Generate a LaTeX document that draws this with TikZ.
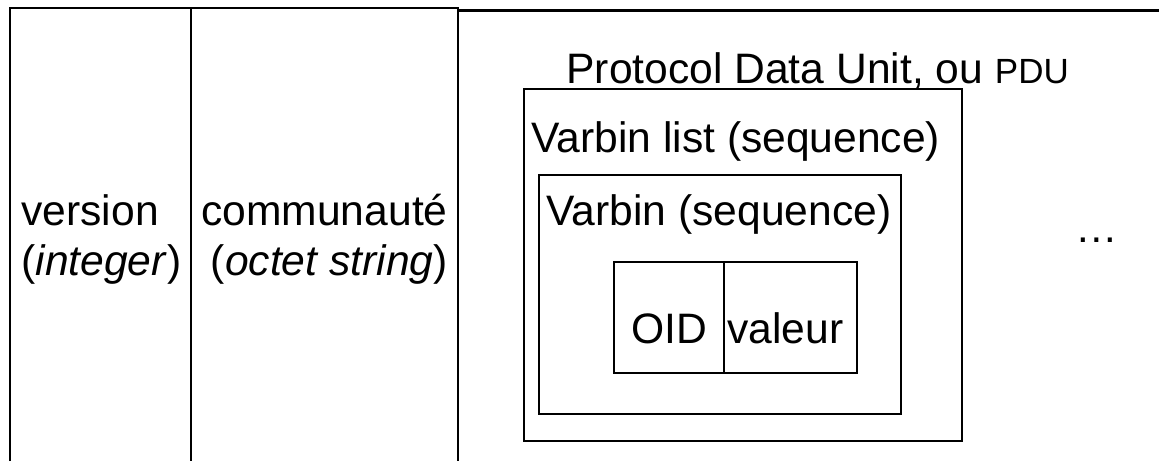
\documentclass[tikz,border=0pt]{standalone}
\usepackage{fontspec}
\setmainfont{Liberation Sans}
\usetikzlibrary{positioning}

\begin{document}
\begin{tikzpicture}[x=0.5pt,y=-0.5pt,
    every node/.style={inner sep=0pt, font=\fontsize{21.3}{25}\selectfont},
    cadre/.style={draw, line width=1.1pt},
    petit/.style={font=\fontsize{17.5}{20}\selectfont}]
  \useasboundingbox (0,0) rectangle (1159,461);
  % en-tete du message SNMP
  \draw[cadre] (10,461) -- (10,8) -- (458,8) -- (458,461);
  \draw[cadre] (191,8) -- (191,461);
  \draw[cadre] (458,10.5) -- (1159,10.5);
  \node[anchor=west, align=left] (version) at (21,239) {version\\(\textit{integer})};
  \node[anchor=east, align=right] (communaute) at (448,239) {communaut\'e\\(\textit{octet string})};
  % PDU et ses sequences
  \draw[cadre] (524,89) rectangle (962,441);
  \draw[cadre] (539,175) rectangle (901,414);
  \draw[cadre] (614,262) rectangle (857,373);
  \draw[cadre] (724,262) -- (724,373);
  \node[anchor=base west] (pdu) at (566,83) {Protocol Data Unit, ou {\fontsize{17.5}{20}\selectfont PDU}};
  \node[anchor=base west] (varbinlist) at (531,152) {Varbin list (sequence)};
  \node[anchor=base west] (varbin) at (546,225) {Varbin (sequence)};
  \node[anchor=base] (oid) at (669,343) {OID};
  \node[anchor=base west] (valeur) at (727,343) {valeur};
  \node[anchor=base west] (suite) at (1075,242) {…};
\end{tikzpicture}
\end{document}
